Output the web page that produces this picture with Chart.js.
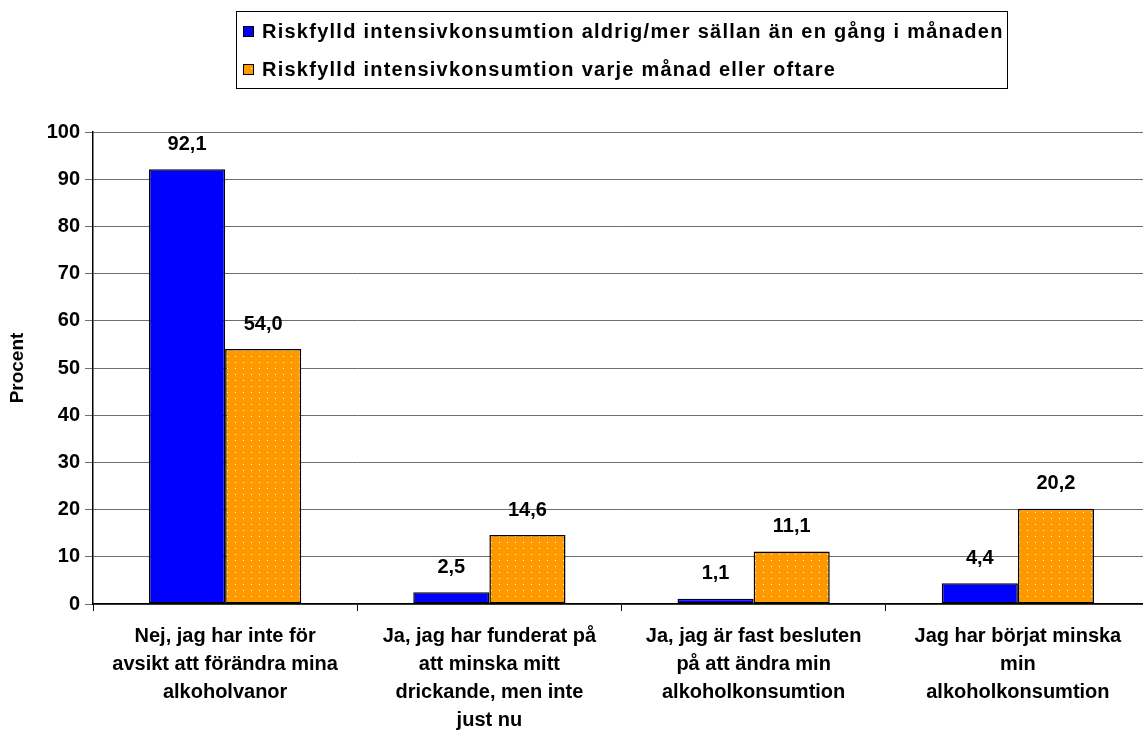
<!DOCTYPE html>
<html lang="sv">
<head>
<meta charset="UTF-8">
<title>Procent</title>
<script src="https://cdn.jsdelivr.net/npm/chart.js"></script>
<style>
  html, body { margin: 0; padding: 0; background: #fff; overflow: hidden; }
  /* plot area runs a few pixels past the right edge in the original */
  #wrap { width: 1150px; height: 734px; position: relative; }
</style>
</head>
<body>
<div id="wrap"><canvas id="chart"></canvas></div>
<script>
// data
const categories = [
  ['Nej, jag har inte för', 'avsikt att förändra mina', 'alkoholvanor'],
  ['Ja, jag har funderat på', 'att minska mitt', 'drickande, men inte', 'just nu'],
  ['Ja, jag är fast besluten', 'på att ändra min', 'alkoholkonsumtion'],
  ['Jag har börjat minska', 'min', 'alkoholkonsumtion']
];
const seriesNames = [
  'Riskfylld intensivkonsumtion aldrig/mer sällan än en gång i månaden',
  'Riskfylld intensivkonsumtion varje månad eller oftare'
];
const seldom = [92.1, 2.5, 1.1, 4.4];
const monthly = [54.0, 14.6, 11.1, 20.2];
const yTicks = [0, 10, 20, 30, 40, 50, 60, 70, 80, 90, 100];

const FONT = '"Liberation Sans", Arial, sans-serif';

// orange with white dots
function dotPattern() {
  const c = document.createElement('canvas');
  c.width = 8; c.height = 6;
  const g = c.getContext('2d');
  g.fillStyle = '#FF9900';
  g.fillRect(0, 0, 8, 6);
  g.fillStyle = '#ffffff';
  g.fillRect(3, 2, 1, 1);
  return g.createPattern(c, 'repeat');
}
const orangeFill = dotPattern();

// the original text is a bit letter-spaced; only for category labels
const spacedXLabels = {
  id: 'spacedXLabels',
  afterLayout(chart) {
    const sc = chart.scales.x;
    if (sc._spaced) return;
    const orig = sc.draw.bind(sc);
    sc.draw = function (area) {
      const ctx = chart.ctx;
      const old = ctx.letterSpacing;
      ctx.letterSpacing = '1px';
      orig(area);
      ctx.letterSpacing = old || '0px';
    };
    sc._spaced = true;
  }
};

// value labels over bars
const valueLabels = {
  id: 'valueLabels',
  afterDatasetsDraw(chart) {
    const ctx = chart.ctx;
    ctx.save();
    ctx.font = 'bold 20px ' + FONT;
    ctx.fillStyle = '#000';
    ctx.textAlign = 'center';
    ctx.textBaseline = 'middle';
    chart.data.datasets.forEach((ds, i) => {
      chart.getDatasetMeta(i).data.forEach((bar, j) => {
        ctx.fillText(ds.data[j].toFixed(1).replace('.', ','), bar.x, bar.y - 25);
      });
    });
    ctx.restore();
  }
};

// boxed legend, left aligned like the original
const boxLegend = {
  id: 'boxLegend',
  afterDraw(chart) {
    const ctx = chart.ctx;
    ctx.save();
    ctx.strokeStyle = '#000';
    ctx.lineWidth = 1;
    ctx.strokeRect(236.5, 11.5, 771, 77);
    ctx.font = 'bold 20px ' + FONT;
    ctx.letterSpacing = '1.25px';
    ctx.textBaseline = 'middle';
    const fills = ['#0000FF', orangeFill];
    const rows = [31, 69];
    seriesNames.forEach((name, i) => {
      ctx.fillStyle = fills[i];
      ctx.fillRect(243, rows[i] - 5, 11, 11);
      ctx.strokeStyle = '#000';
      ctx.strokeRect(243.5, rows[i] - 4.5, 10, 10);
      ctx.fillStyle = '#000';
      ctx.fillText(name, 262, rows[i] + 1);
    });
    ctx.restore();
  }
};

new Chart(document.getElementById('chart'), {
  type: 'bar',
  data: {
    labels: categories,
    datasets: [
      { label: seriesNames[0], data: seldom, backgroundColor: '#0000FF',
        borderColor: '#000', borderWidth: 1.5, borderSkipped: false },
      { label: seriesNames[1], data: monthly, backgroundColor: orangeFill,
        borderColor: '#000', borderWidth: 1.5, borderSkipped: false }
    ]
  },
  options: {
    responsive: true,
    maintainAspectRatio: false,
    animation: false,
    layout: { padding: { top: 132, left: 0, right: 0, bottom: 0 } },
    datasets: { bar: { categoryPercentage: 0.576, barPercentage: 1.0 } },
    plugins: { legend: { display: false }, tooltip: { enabled: false } },
    scales: {
      x: {
        grid: { offset: true, drawOnChartArea: false, color: '#000', tickLength: 7 },
        border: { color: '#000', width: 1.5 },
        afterFit(axis) { axis.height = 130; },
        ticks: {
          color: '#000', maxRotation: 0, autoSkip: false, padding: 11,
          font: { family: FONT, size: 20, weight: 'bold', lineHeight: 1.4 }
        }
      },
      y: {
        min: 0, max: 100,
        afterBuildTicks(axis) { axis.ticks = yTicks.map(v => ({ value: v })); },
        afterFit(axis) { axis.width = 93; },
        grid: { color: '#6e6e6e', lineWidth: 1, tickLength: 8 },
        border: { color: '#000', width: 1.5 },
        ticks: { color: '#000', padding: 5, font: { family: FONT, size: 20, weight: 'bold' } },
        title: { display: true, text: 'Procent', color: '#000', padding: 6,
          font: { family: FONT, size: 19, weight: 'bold' } }
      }
    }
  },
  plugins: [spacedXLabels, valueLabels, boxLegend]
});
</script>
</body>
</html>
